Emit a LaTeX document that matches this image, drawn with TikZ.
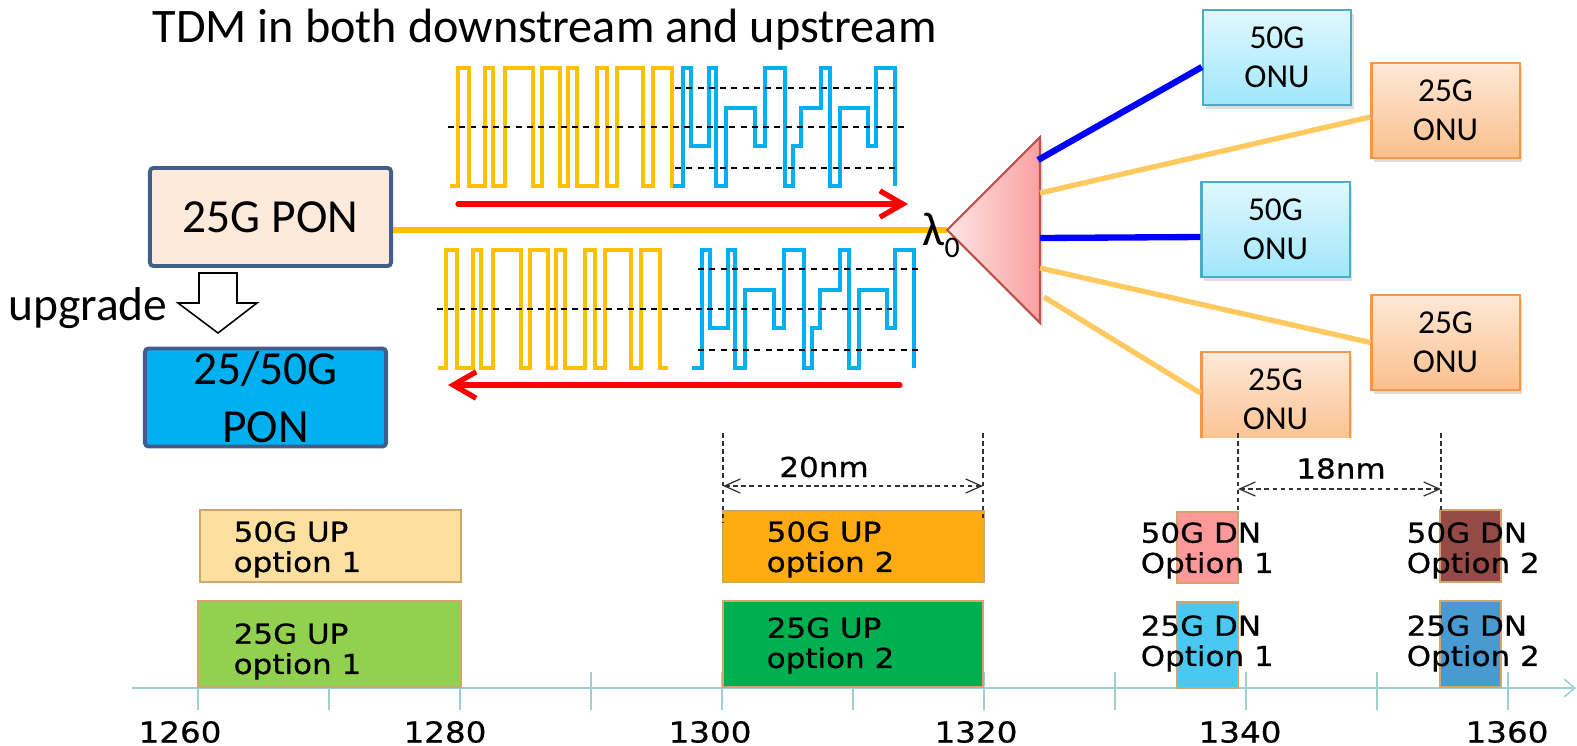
\documentclass[tikz,border=0pt]{standalone}
\usepackage{fontspec}
\setmainfont{Carlito}
\newfontfamily\chartfont[FakeStretch=1.13,FakeBold=0.6]{DejaVu Sans}
\usetikzlibrary{arrows.meta,calc,shadows}

\definecolor{waveorange}{HTML}{FFC000}
\definecolor{waveblue}{HTML}{00B0F0}
\definecolor{oltedge}{HTML}{3F5E8A}
\definecolor{oltpeach}{HTML}{FDEADA}
\definecolor{oltblue}{HTML}{00B0F0}
\definecolor{splitedge}{HTML}{C0504D}
\definecolor{splitlight}{HTML}{FFE6E6}
\definecolor{splitdark}{HTML}{F9A0A0}
\definecolor{dropblue}{HTML}{0000FF}
\definecolor{droporange}{HTML}{FFC95F}
\definecolor{onublueedge}{HTML}{4BACC6}
\definecolor{onubluetop}{HTML}{E0F8FE}
\definecolor{onubluebot}{HTML}{A0E6FB}
\definecolor{onuorangeedge}{HTML}{F79646}
\definecolor{onuorangetop}{HTML}{FEE9D8}
\definecolor{onuorangebot}{HTML}{FBBF8C}
\definecolor{bandedge}{HTML}{D2A56C}
\definecolor{upApale}{HTML}{FDDFA0}
\definecolor{upAgreen}{HTML}{92D050}
\definecolor{upBorange}{HTML}{FFAB11}
\definecolor{upBgreen}{HTML}{00B050}
\definecolor{dnApink}{HTML}{FF9999}
\definecolor{dnAcyan}{HTML}{4BC8F2}
\definecolor{dnBbrown}{HTML}{954A48}
\definecolor{dnBsteel}{HTML}{4A9AD2}
\definecolor{axisteal}{HTML}{9FD0D0}
\definecolor{dimgray}{HTML}{333333}

% one burst each, unit = 1px, top of the eye = 0
\newcommand{\orangewave}{(0,118) -| (8,0) -| (19,118) -| (35,0) -| (43,118) -| (55,0) -| (83,118) -| (92,0) -| (110,118) -| (118,0) -| (127,118) -| (147,0) -| (157,118) -| (167,0) -| (193,118) -| (203,0) -| (222,118) -- (230,118)}
\newcommand{\bluewave}{(0,118) -| (10,0) -| (18,78) -| (36,0) -| (43,118) -| (53,40) -| (82,78) -| (92,0) -| (112,118) -| (120,78) -| (128,40) -| (148,0) -| (157,118) -| (167,40) -| (195,78) -| (203,0) -| (222,118)}

\begin{document}
\begin{tikzpicture}[x=0.01cm, y=-0.01cm,
  bigtext/.style={font=\fontsize{13.5}{16.5}\selectfont},
  olt/.style={draw=oltedge, line width=1.1pt, rounded corners=1pt,
    minimum width=2.41cm, minimum height=0.98cm, inner sep=0pt, align=center, bigtext},
  onubox/.style={line width=0.6pt, minimum width=1.48cm, minimum height=0.95cm,
    inner sep=0pt, align=center, font=\fontsize{9.5}{11}\selectfont,
    drop shadow={opacity=.25, shadow xshift=.8pt, shadow yshift=-1.2pt}},
  onu50/.style={onubox, draw=onublueedge, top color=onubluetop, bottom color=onubluebot},
  onu25/.style={onubox, draw=onuorangeedge, top color=onuorangetop, bottom color=onuorangebot},
  wave/.style={line width=1.1pt},
  level/.style={dash pattern=on 1.7pt off 1.5pt, line width=0.45pt},
  flow/.style={red, line width=1.5pt, line cap=round,
    -{Straight Barb[length=6.5pt,width=7.5pt]}},
  drop/.style={line width=1.5pt},
  band/.style={draw=bandedge, line width=0.5pt},
  chart/.style={font=\chartfont\fontsize{7.8}{8.6}\selectfont, inner sep=0pt},
  ticklabel/.style={font=\chartfont\fontsize{8.2}{9}\selectfont, inner sep=0pt},
  dimline/.style={draw=dimgray, line width=0.35pt, dash pattern=on 1.3pt off 1pt},
  dimarrow/.style={dimline,
    {Straight Barb[length=4.5pt,width=4pt]}-{Straight Barb[length=4.5pt,width=4pt]}},
  axisline/.style={draw=axisteal, line width=0.45pt}]
  \useasboundingbox (0,0) rectangle (1577,745);

  \node[font=\fontsize{13.7}{16.5}\selectfont, anchor=base west, inner sep=0pt] (title)
    at (152,42) {TDM in both downstream and upstream};

  % OLT and upgrade
  \node[olt, fill=oltpeach] (pon25) at (270.5,217) {25G PON};
  \node[olt, fill=oltblue] (pon50) at (265.5,397.5) {25/50G\\PON};
  \draw[fill=white, line width=0.45pt] (199,273) -- (237,273) -- (237,303) -- (257,303)
    -- (218,333) -- (178,303) -- (199,303) -- cycle;
  \node[bigtext, anchor=base east, inner sep=0pt] (upgrade) at (168,320) {upgrade};

  % downstream burst
  \begin{scope}[shift={(450,68)}]
    \draw[wave, waveorange] \orangewave;
    \draw[wave, waveblue, shift={(223,0)}] \bluewave;
    \draw[level] (-2,59) -- (455,59);
    \draw[level] (225,20) -- (450,20);
    \draw[level] (225,100) -- (450,100);
  \end{scope}
  % upstream burst
  \begin{scope}[shift={(438,250)}]
    \draw[wave, waveorange] \orangewave;
    \draw[wave, waveblue, shift={(254,0)}] \bluewave;
    \draw[level] (-1,59) -- (454,59);
    \draw[level] (260,19) -- (480,19);
    \draw[level] (260,100) -- (480,100);
  \end{scope}
  \draw[flow] (458,204) -- (908,204);
  \draw[flow] (900,385) -- (448,385);

  % trunk fibre and splitter
  \coordinate (tip) at (947,230);
  \draw[waveorange, line width=1.8pt] (pon25.east |- tip) -- (tip);
  \draw[draw=splitedge, line width=0.6pt, left color=splitlight, right color=splitdark,
    drop shadow={opacity=.2, shadow xshift=.8pt, shadow yshift=-1.2pt}]
    (tip) -- (1040,137) -- (1040,323) -- cycle;
  \node[bigtext, anchor=base west, inner sep=0pt] (lambda) at (922,245)
    {λ\raisebox{-3.5pt}{\fontsize{8.5}{8.5}\selectfont 0}};
  \coordinate (sp1) at (1038,160);
  \coordinate (sp2) at (1040,193);
  \coordinate (sp3) at (1040,238);
  \coordinate (sp4) at (1040,268);
  \coordinate (sp5) at (1044,297);

  % ONUs
  \node[onu50] (onuA) at (1277,57.5) {50G\\ONU};
  \node[onu25] (onuB) at (1445.5,110.5) {25G\\ONU};
  \node[onu50] (onuC) at (1275.5,229.5) {50G\\ONU};
  \node[onu25] (onuD) at (1445.5,342.5) {25G\\ONU};
  \begin{scope}
    \clip (1150,330) rectangle (1420,437);
    \node[onu25] (onuE) at (1275.5,399.5) {25G\\ONU};
  \end{scope}
  \draw[drop, dropblue, line width=1.8pt] (sp1) -- ($(onuA.west)+(0,9.5)$);
  \draw[drop, droporange] (sp2) -- ($(onuB.west)+(0,6.5)$);
  \draw[drop, dropblue, line width=1.8pt] (sp3) -- ($(onuC.west)+(0,7.5)$);
  \draw[drop, droporange] (sp4) -- (onuD.west);
  \draw[drop, droporange] (sp5) -- ($(onuE.west)+(0,-6.5)$);

  % wavelength plan
  \coordinate (axisL) at (132,688);
  \coordinate (axisR) at (1576,688);
  \draw[axisline, -{Straight Barb[length=3pt,width=5pt]}] (axisL) -- (axisR);
  \foreach \t in {0,...,10}
    \draw[axisline] ({198+131*\t},672) -- ({198+131*\t},710);
  \foreach \lab/\lx in {1260/180,1280/445,1300/710,1320/976,1340/1240,1360/1507}
    \node[ticklabel] (nm\lab) at (\lx,732) {\lab};

  \draw[band, fill=upApale] (200,510) rectangle (461,582);
  \draw[band, fill=upAgreen] (198,601) rectangle (461,687);
  \draw[band, fill=upBorange] (723,511) rectangle (984,582);
  \draw[band, fill=upBgreen] (723,601) rectangle (983,687);
  \draw[band, fill=dnApink] (1177,512) rectangle (1238,583);
  \draw[band, fill=dnAcyan] (1177,602) rectangle (1238,688);
  \draw[band, fill=dnBbrown] (1440,510) rectangle (1501,582);
  \draw[band, fill=dnBsteel] (1440,601) rectangle (1501,687);

  \node[chart, anchor=west, align=left] (upA50) at (233,549.5) {50G UP\\option 1};
  \node[chart, anchor=west, align=left] (upA25) at (233,651.5) {25G UP\\option 1};
  \node[chart, anchor=west, align=left] (upB50) at (766,549.5) {50G UP\\option 2};
  \node[chart, anchor=west, align=left] (upB25) at (766,645.5) {25G UP\\option 2};
  \node[chart, anchor=west, align=left] (dnA50) at (1140,550.5) {50G DN\\Option 1};
  \node[chart, anchor=west, align=left] (dnA25) at (1140,643.5) {25G DN\\Option 1};
  \node[chart, anchor=west, align=left] (dnB50) at (1406,550.5) {50G DN\\Option 2};
  \node[chart, anchor=west, align=left] (dnB25) at (1406,643.5) {25G DN\\Option 2};

  % spacing marks
  \coordinate (g20a) at (723,486);
  \coordinate (g20b) at (983,486);
  \coordinate (g18a) at (1238,489);
  \coordinate (g18b) at (1441,489);
  \draw[dimline] (723,433) -- (723,522);
  \draw[dimline] (983,433) -- (983,520);
  \draw[dimline] (1238,433) -- (1238,512);
  \draw[dimline] (1441,433) -- (1441,510);
  \draw[dimarrow] (g20a) -- (g20b);
  \draw[dimarrow] (g18a) -- (g18b);
  \node[chart] (gap20) at (824,467) {20nm};
  \node[chart] (gap18) at (1341,468.5) {18nm};
\end{tikzpicture}
\end{document}
